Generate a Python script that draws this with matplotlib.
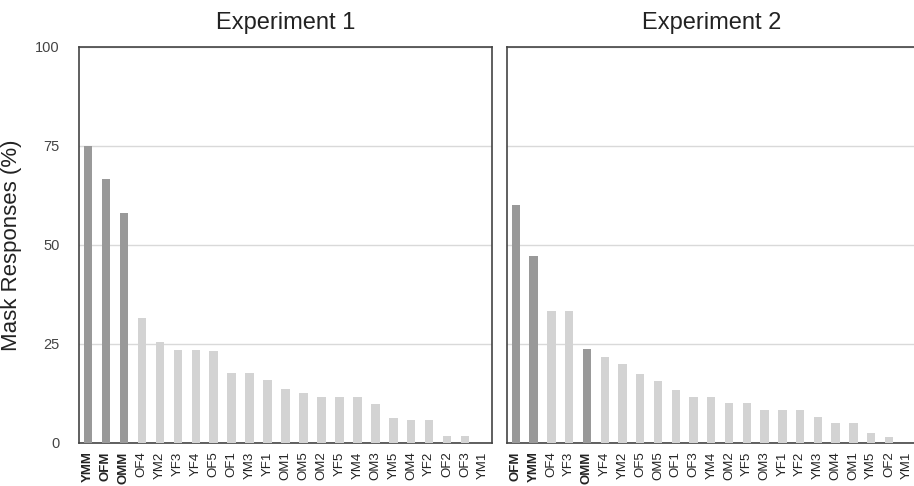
import numpy as np
import matplotlib
matplotlib.use("Agg")
from matplotlib import pyplot as plt

plt.rcParams['font.family'] = ['Liberation Sans', 'DejaVu Sans']

# Experiment 1
exp1_labels = ["YMM", "OFM", "OMM", "OF4", "YM2", "YF3", "YF4", "OF5", "OF1", "YM3",
               "YF1", "OM1", "OM5", "OM2", "YF5", "YM4", "OM3", "YM5", "OM4", "YF2",
               "OF2", "OF3", "YM1"]
exp1_values = [75.0, 66.7, 58.0, 31.5, 25.6, 23.5, 23.5, 23.3, 17.6, 17.6,
               15.8, 13.7, 12.7, 11.6, 11.6, 11.6, 9.8, 6.2, 5.9, 5.9,
               1.8, 1.8, 0.0]

# Experiment 2
exp2_labels = ["OFM", "YMM", "OF4", "YF3", "OMM", "YF4", "YM2", "OF5", "OM5", "OF1",
               "OF3", "YM4", "OM2", "YF5", "OM3", "YF1", "YF2", "YM3", "OM4", "OM1",
               "YM5", "OF2", "YM1"]
exp2_values = [60.0, 47.3, 33.3, 33.3, 23.7, 21.6, 19.9, 17.4, 15.7, 13.3,
               11.6, 11.6, 10.1, 10.1, 8.3, 8.3, 8.3, 6.6, 5.0, 5.0,
               2.4, 1.5, 0.0]

highlight = ["YMM", "OFM", "OMM"]
dark = "#999999"
light = "#d3d3d3"

fig = plt.figure(figsize=(9.14, 4.86), dpi=100)
ax1 = fig.add_axes([0.0864, 0.0885, 0.452, 0.8148])
ax2 = fig.add_axes([0.5547, 0.0885, 0.447, 0.8148])

for ax, labels, values, title in [(ax1, exp1_labels, exp1_values, "Experiment 1"),
                                  (ax2, exp2_labels, exp2_values, "Experiment 2")]:
    x = np.arange(len(labels))
    colors = [dark if l in highlight else light for l in labels]
    ax.bar(x, values, width=0.47, color=colors, zorder=3)
    ax.set_xlim(-0.5, len(labels) - 0.5)
    ax.set_ylim(0, 100)
    ax.set_yticks([0, 25, 50, 75, 100])
    ax.yaxis.grid(True, color="#d9d9d9", lw=1.0, zorder=0)
    ax.set_xticks(x)
    ax.set_xticklabels(labels, rotation=90, fontsize=9.5, color="#222222")
    for t in ax.get_xticklabels():
        if t.get_text() in highlight:
            t.set_fontweight("bold")
    ax.tick_params(length=0, pad=6)
    for s in ax.spines.values():
        s.set_color("#444444")
        s.set_linewidth(1.2)
    ax.set_title(title, fontsize=17, color="#222222", pad=13)

ax2.spines['right'].set_visible(False)
ax1.tick_params(axis='y', labelsize=10.5, labelcolor="#444444", pad=14)
ax1.set_ylabel("Mask Responses (%)", fontsize=16, color="#222222")
ax1.yaxis.set_label_coords(-0.138, 0.5)
ax2.set_yticklabels([])

fig.savefig("out.png", dpi=100)
